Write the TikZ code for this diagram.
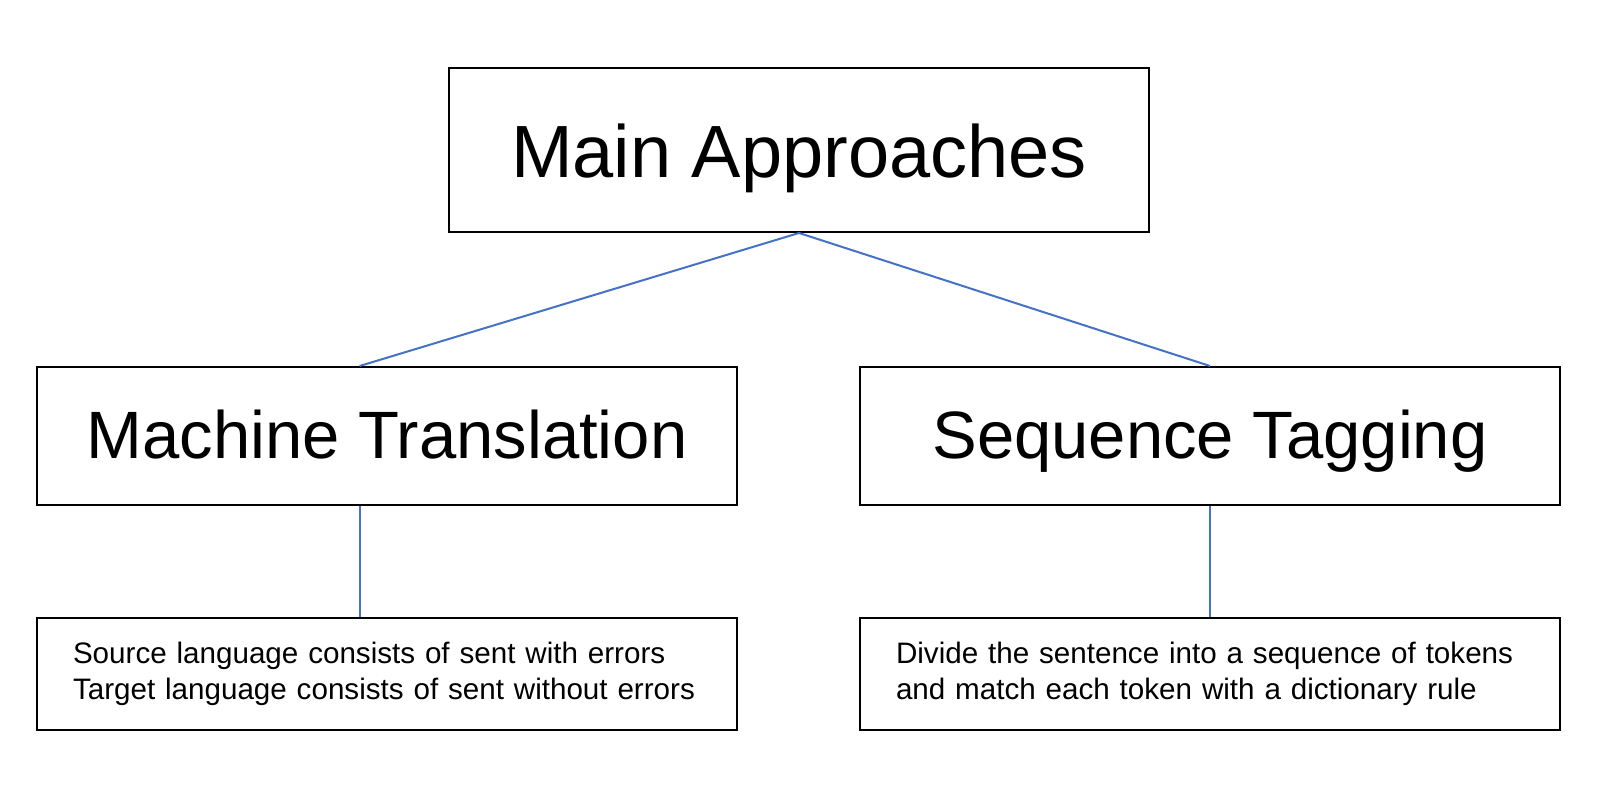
\documentclass[tikz,border=0pt]{standalone}
\usepackage{fontspec}
\setmainfont{Liberation Sans}
\usetikzlibrary{positioning,calc}
\definecolor{lnblue}{RGB}{68,114,196}
\tikzset{
    box/.style={
        draw=black,line width=1pt,minimum width=350pt,
        align=center,inner sep=0pt
    },
    title/.style={
        box,minimum height=82pt,text height=28pt,text depth=0pt,
        font=\fontsize{37}{44}\selectfont
    },
    topic/.style={
        box,minimum height=69pt,text height=22.5pt,text depth=0pt,
        font=\fontsize{33.5}{40}\selectfont
    },
    note/.style={
        box,minimum height=56pt,text width=314pt,inner xsep=18pt,
        align=left,font=\fontsize{14.8}{18}\selectfont
    },
    link/.style={
        draw=lnblue,line width=1pt
    }
}
\begin{document}
\begin{tikzpicture}[x=0.5pt,y=-0.5pt,node distance=55.5pt]
\useasboundingbox (0,0) rectangle (1600,812);

\node[title] (main) at (799,150) {Main Approaches};

\node[topic] (mt) at (387,436) {Machine Translation};
\node[topic,right=60.5pt of mt] (st) {Sequence Tagging};

\node[note,below=of mt] (src)
{Source language consists of sent with errors\\Target language consists of sent without errors};
\node[note,below=of st] (tag)
{Divide the sentence into a sequence of tokens\\and match each token with a dictionary rule};

% left links leave off-centre
\coordinate (mtin) at ($(mt.north west)!0.461!(mt.north east)$);
\coordinate (mtout) at ($(mt.south west)!0.461!(mt.south east)$);

\draw[link](main.south)--(mtin);
\draw[link](main.south)--(st.north);
\draw[link](mtout)--(mtout |- src.north);
\draw[link](st.south)--(tag.north);

\end{tikzpicture}
\end{document}
